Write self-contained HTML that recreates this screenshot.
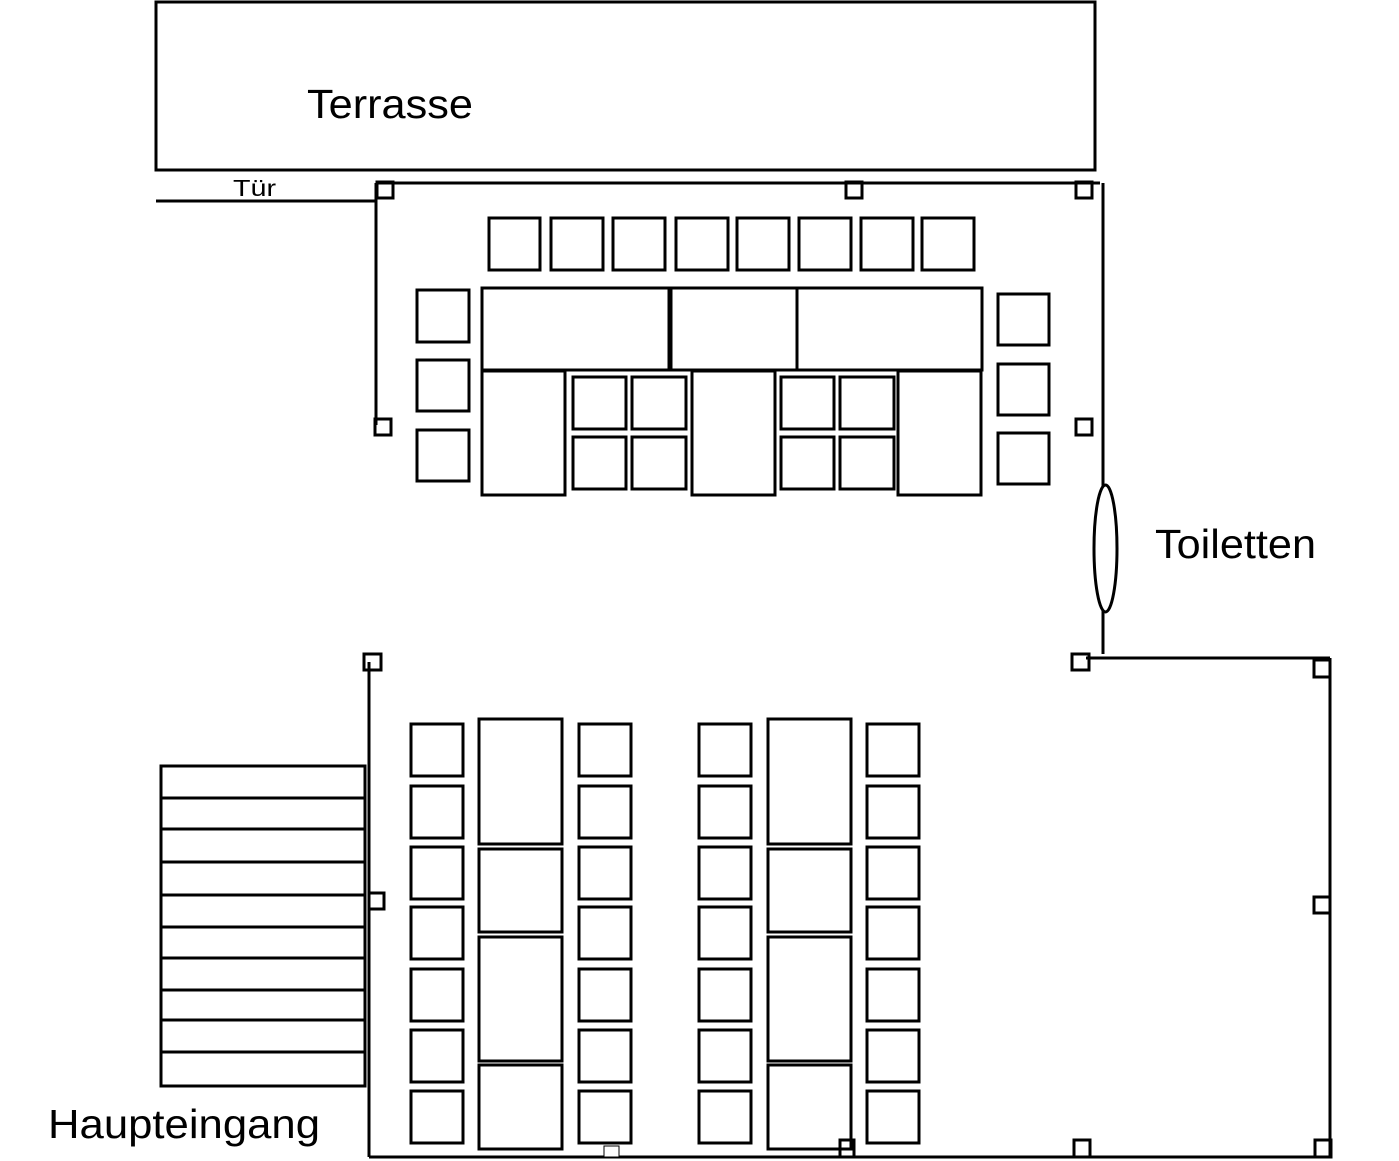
<!DOCTYPE html>
<html><head><meta charset="utf-8"><style>html,body{margin:0;padding:0;background:#fff}</style></head>
<body>
<svg width="1399" height="1161" viewBox="0 0 1399 1161" xmlns="http://www.w3.org/2000/svg" style="display:block">
<g fill="none" stroke="#000" stroke-width="3">
<rect x="156" y="2" width="939" height="168"/>
<line x1="156" y1="201" x2="376" y2="201"/>
<line x1="376" y1="183" x2="1100" y2="183"/>
<line x1="376" y1="183" x2="376" y2="425"/>
<line x1="1103" y1="183" x2="1103" y2="487"/>
<line x1="1103" y1="610" x2="1103" y2="654"/>
<ellipse cx="1105.5" cy="548.5" rx="11.5" ry="63.5"/>
<rect x="377" y="182" width="16" height="16"/><rect x="846" y="182" width="16" height="16"/><rect x="1076" y="182" width="16" height="16"/>
<rect x="375" y="419" width="16" height="16"/><rect x="1076" y="419" width="16" height="16"/>
<rect x="489" y="218" width="51" height="52"/><rect x="551" y="218" width="52" height="52"/><rect x="613" y="218" width="52" height="52"/><rect x="676" y="218" width="52" height="52"/><rect x="737" y="218" width="52" height="52"/><rect x="799" y="218" width="52" height="52"/><rect x="861" y="218" width="52" height="52"/><rect x="922" y="218" width="52" height="52"/>
<rect x="417" y="290" width="52" height="52"/><rect x="417" y="360" width="52" height="51"/><rect x="417" y="430" width="52" height="51"/>
<rect x="998" y="294" width="51" height="51"/><rect x="998" y="364" width="51" height="51"/><rect x="998" y="433" width="51" height="51"/>
<rect x="482" y="288" width="187" height="82"/><rect x="671" y="288" width="126" height="82"/><rect x="797" y="288" width="185" height="82"/>
<rect x="482" y="371" width="83" height="124"/><rect x="692" y="371" width="83" height="124"/><rect x="898" y="371" width="83" height="124"/>
<rect x="573" y="377" width="53" height="52"/><rect x="632" y="377" width="54" height="52"/><rect x="573" y="437" width="53" height="52"/><rect x="632" y="437" width="54" height="52"/>
<rect x="781" y="377" width="53" height="52"/><rect x="840" y="377" width="54" height="52"/><rect x="781" y="437" width="53" height="52"/><rect x="840" y="437" width="54" height="52"/>
<line x1="369" y1="662" x2="369" y2="1157"/>
<line x1="369" y1="1157" x2="1332" y2="1157"/>
<line x1="1330" y1="658" x2="1330" y2="1157"/>
<line x1="1086" y1="658" x2="1330" y2="658"/>
<rect x="364" y="654" width="17" height="16"/><rect x="1072" y="654" width="17" height="16"/><rect x="1314" y="660" width="16" height="17"/>
<rect x="369" y="893" width="15" height="16"/><rect x="1314" y="897" width="16" height="16"/>
<rect x="1074" y="1140" width="16" height="17"/><rect x="1315" y="1140" width="16" height="17"/><rect x="840" y="1140" width="14" height="17"/>
<rect x="161" y="766" width="204" height="320"/>
<path d="M161 798H365M161 829H365M161 862H365M161 895H365M161 927H365M161 958H365M161 990H365M161 1020H365M161 1052H365"/>
<rect x="411" y="724" width="52" height="52"/><rect x="411" y="786" width="52" height="52"/><rect x="411" y="847" width="52" height="52"/><rect x="411" y="907" width="52" height="52"/><rect x="411" y="969" width="52" height="52"/><rect x="411" y="1030" width="52" height="52"/><rect x="411" y="1091" width="52" height="52"/>
<rect x="579" y="724" width="52" height="52"/><rect x="579" y="786" width="52" height="52"/><rect x="579" y="847" width="52" height="52"/><rect x="579" y="907" width="52" height="52"/><rect x="579" y="969" width="52" height="52"/><rect x="579" y="1030" width="52" height="52"/><rect x="579" y="1091" width="52" height="52"/>
<rect x="479" y="719" width="83" height="125"/><rect x="479" y="849" width="83" height="83"/><rect x="479" y="937" width="83" height="124"/><rect x="479" y="1065" width="83" height="84"/>
<rect x="699" y="724" width="52" height="52"/><rect x="699" y="786" width="52" height="52"/><rect x="699" y="847" width="52" height="52"/><rect x="699" y="907" width="52" height="52"/><rect x="699" y="969" width="52" height="52"/><rect x="699" y="1030" width="52" height="52"/><rect x="699" y="1091" width="52" height="52"/>
<rect x="867" y="724" width="52" height="52"/><rect x="867" y="786" width="52" height="52"/><rect x="867" y="847" width="52" height="52"/><rect x="867" y="907" width="52" height="52"/><rect x="867" y="969" width="52" height="52"/><rect x="867" y="1030" width="52" height="52"/><rect x="867" y="1091" width="52" height="52"/>
<rect x="768" y="719" width="83" height="125"/><rect x="768" y="849" width="83" height="83"/><rect x="768" y="937" width="83" height="124"/><rect x="768" y="1065" width="83" height="84"/>
</g>
<rect x="604" y="1146" width="15" height="11" fill="#fff" stroke="#000" stroke-width="1"/>
<g font-family="Liberation Sans, sans-serif" fill="#000">
<text x="307" y="118" font-size="41" textLength="166" lengthAdjust="spacingAndGlyphs">Terrasse</text>
<text x="233" y="196" font-size="23" textLength="43" lengthAdjust="spacingAndGlyphs">Tür</text>
<text x="1155" y="558" font-size="41" textLength="161" lengthAdjust="spacingAndGlyphs">Toiletten</text>
<text x="48" y="1138" font-size="41" textLength="272" lengthAdjust="spacingAndGlyphs">Haupteingang</text>
</g>
</svg>
</body></html>
